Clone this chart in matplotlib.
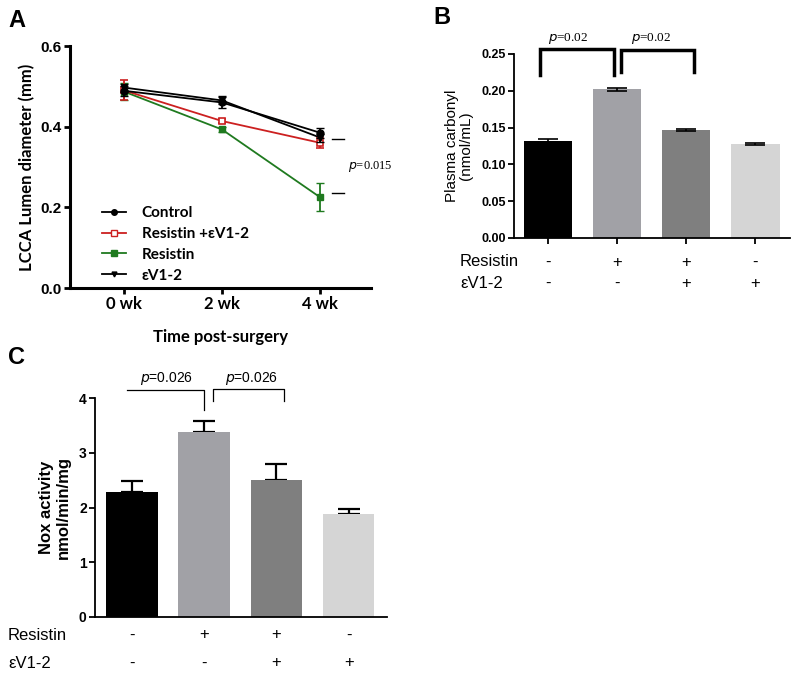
import numpy as np
import matplotlib
matplotlib.use('Agg')
import matplotlib.pyplot as plt
from matplotlib.lines import Line2D
from matplotlib.transforms import blended_transform_factory

plt.rcParams['font.family'] = ['Liberation Sans', 'DejaVu Sans']

# panel A data
weeks = ['0 wk', '2 wk', '4 wk']
control = [0.489, 0.460, 0.385]
control_err = [0.012, 0.014, 0.012]
res_ev = [0.490, 0.414, 0.360]
res_ev_err = [0.025, 0.006, 0.012]
resistin = [0.487, 0.393, 0.225]
resistin_err = [0.022, 0.005, 0.035]
ev = [0.497, 0.465, 0.373]
ev_err = [0.010, 0.010, 0.010]

# panel B data
carbonyl = [0.132, 0.202, 0.147, 0.128]
carbonyl_err = [0.003, 0.002, 0.001, 0.001]

# panel C data
nox = [2.29, 3.37, 2.51, 1.88]
nox_err = [0.19, 0.21, 0.28, 0.09]

resistin_signs = ['-', '+', '+', '-']
ev_signs = ['-', '-', '+', '+']
bar_colors = ['#000000', '#a1a1a6', '#7f7f7f', '#d5d5d5']

calibri = ['Lato', 'DejaVu Sans']
serif = ['Liberation Serif', 'DejaVu Serif']
green = '#1f7a1f'
red = '#cc2020'

fig = plt.figure(figsize=(8, 6.79), dpi=100)

# ---------------- A ----------------
axA = fig.add_axes([0.0875, 1 - 288 / 679, 0.3763, (288 - 46) / 679])
x = np.arange(len(weeks))
axA.errorbar(x, resistin, yerr=resistin_err, color=green, marker='s', ms=5,
             lw=1.3, capsize=3, elinewidth=1.3, zorder=2)
axA.errorbar(x, res_ev, yerr=res_ev_err, color=red, marker='s', ms=5,
             mfc='white', mew=1.2, lw=1.3, capsize=3, elinewidth=1.3, zorder=3)
axA.errorbar(x, ev, yerr=ev_err, color='black', marker='v', ms=4,
             lw=1.3, capsize=3, elinewidth=1.3, zorder=4)
axA.errorbar(x, control, yerr=control_err, color='black', marker='o', ms=5,
             lw=1.3, capsize=3, elinewidth=1.3, zorder=5)
axA.set_xlim(-0.55, 2.52)
axA.set_ylim(0, 0.6)
axA.set_yticks([0.0, 0.2, 0.4, 0.6])
axA.set_yticklabels(['0.0', '0.2', '0.4', '0.6'], fontweight='bold', fontsize=11)
axA.set_xticks(x)
axA.set_xticklabels(weeks, fontweight='bold', fontsize=12, family=calibri)
axA.set_ylabel('LCCA Lumen diameter (mm)', fontsize=12, fontweight='bold',
               family=calibri, labelpad=4)
axA.set_xlabel('Time post-surgery', fontsize=12, fontweight='bold',
               family=calibri, labelpad=12)
for s in ['top', 'right']:
    axA.spines[s].set_visible(False)
for s in ['left', 'bottom']:
    axA.spines[s].set_linewidth(2.2)
axA.tick_params(width=2, length=4, pad=2)
proxies = [
    Line2D([], [], color='black', marker='o', ms=4, lw=1.3),
    Line2D([], [], color=red, marker='s', ms=4, mfc='white', lw=1.3),
    Line2D([], [], color=green, marker='s', ms=4, lw=1.3),
    Line2D([], [], color='black', marker='v', ms=3.5, lw=1.3),
]
legend_labels = ['Control', 'Resistin +\u03b5V1-2', 'Resistin', '\u03b5V1-2']
axA.legend(proxies, legend_labels, loc='lower left', bbox_to_anchor=(0.06, -0.035),
           frameon=False, handlelength=1.6, handletextpad=1.0, labelspacing=0.45,
           prop={'family': calibri, 'weight': 'bold', 'size': 11})
axA.plot([2.12, 2.24], [0.37, 0.37], color='black', lw=1, clip_on=False)
axA.plot([2.12, 2.24], [0.236, 0.236], color='black', lw=1, clip_on=False)
axA.text(2.29, 0.30, '$p$=0.015', fontsize=9, va='center', ha='left', family=serif)
fig.text(0.01, 0.97, 'A', fontsize=17, fontweight='bold', va='center')

# ---------------- B ----------------
axB = fig.add_axes([514 / 800, 1 - 238 / 679, (790 - 514) / 800, (238 - 54) / 679])
xb = np.arange(len(carbonyl))
axB.bar(xb, carbonyl, width=0.7, color=bar_colors, zorder=2)
axB.errorbar(xb, carbonyl, yerr=carbonyl_err, fmt='none', ecolor='black',
             elinewidth=1.2, capsize=7, capthick=1.2, zorder=3)
axB.set_xlim(-0.49, 3.5)
axB.set_ylim(0, 0.25)
axB.set_yticks([0, 0.05, 0.10, 0.15, 0.20, 0.25])
axB.set_yticklabels(['0.00', '0.05', '0.10', '0.15', '0.20', '0.25'],
                    fontweight='bold', fontsize=9)
axB.set_xticks(xb)
axB.set_xticklabels([])
axB.set_ylabel('Plasma carbonyl\n(nmol/mL)', fontsize=11, labelpad=6,
               linespacing=1.0)
for s in ['top', 'right']:
    axB.spines[s].set_visible(False)
for s in ['left', 'bottom']:
    axB.spines[s].set_linewidth(1.3)
axB.tick_params(width=1.3, length=4, pad=2)
# brackets
axB.plot([-0.12, -0.12, 0.96, 0.96], [0.222, 0.2567, 0.2567, 0.222],
         color='black', lw=2.5, clip_on=False, solid_joinstyle='miter')
axB.plot([1.06, 1.06, 2.11, 2.11], [0.225, 0.2558, 0.2558, 0.225],
         color='black', lw=2.5, clip_on=False, solid_joinstyle='miter')
axB.text(0.30, 0.2605, '$p$=0.02', fontsize=9.5, ha='center', va='bottom', family=serif)
axB.text(1.50, 0.2605, '$p$=0.02', fontsize=9.5, ha='center', va='bottom', family=serif)
trB = blended_transform_factory(axB.transData, fig.transFigure)
for i in range(4):
    axB.text(xb[i], 1 - 262 / 679, resistin_signs[i], transform=trB,
             ha='center', va='center', fontsize=12)
    axB.text(xb[i], 1 - 283 / 679, ev_signs[i], transform=trB,
             ha='center', va='center', fontsize=12)
fig.text(460 / 800, 1 - 262 / 679, 'Resistin', ha='left', va='center', fontsize=12)
fig.text(460 / 800, 1 - 283 / 679, '\u03b5V1-2', ha='left', va='center', fontsize=12)
fig.text(433 / 800, 1 - 17 / 679, 'B', fontsize=17, fontweight='bold', va='center')

# ---------------- C ----------------
axC = fig.add_axes([95 / 800, 1 - 617 / 679, (387 - 95) / 800, (617 - 398) / 679])
xc = np.arange(len(nox))
axC.bar(xc, nox, width=0.71, color=bar_colors, zorder=2)
axC.errorbar(xc, nox, yerr=[[0] * 4, nox_err], fmt='none', ecolor='black',
             elinewidth=1.6, capsize=8, capthick=1.6, zorder=1)
axC.set_xlim(-0.51, 3.53)
axC.set_ylim(0, 4)
axC.set_yticks([0, 1, 2, 3, 4])
axC.set_yticklabels(['0', '1', '2', '3', '4'], fontweight='bold', fontsize=10)
axC.set_xticks([])
axC.set_ylabel('Nox activity\nnmol/min/mg', fontsize=12, fontweight='bold',
               labelpad=6, linespacing=1.1)
for s in ['top', 'right']:
    axC.spines[s].set_visible(False)
for s in ['left', 'bottom']:
    axC.spines[s].set_linewidth(1.3)
axC.tick_params(width=1.3, length=4, pad=2)
axC.plot([-0.07, 1.0, 1.0], [4.14, 4.14, 3.78], color='black', lw=0.9, clip_on=False)
axC.plot([1.12, 1.12, 2.1, 2.1], [3.95, 4.17, 4.17, 3.95], color='black', lw=0.9,
         clip_on=False)
axC.text(0.48, 4.2, '$p$=0.026', fontsize=10, ha='center', va='bottom')
axC.text(1.66, 4.2, '$p$=0.026', fontsize=10, ha='center', va='bottom')
trC = blended_transform_factory(axC.transData, fig.transFigure)
for i in range(4):
    axC.text(xc[i], 1 - 635 / 679, resistin_signs[i], transform=trC,
             ha='center', va='center', fontsize=12)
    axC.text(xc[i], 1 - 663 / 679, ev_signs[i], transform=trC,
             ha='center', va='center', fontsize=12)
fig.text(8 / 800, 1 - 635 / 679, 'Resistin', ha='left', va='center', fontsize=12)
fig.text(8 / 800, 1 - 663 / 679, '\u03b5V1-2', ha='left', va='center', fontsize=12)
fig.text(0.01, 1 - 357 / 679, 'C', fontsize=17, fontweight='bold', va='center')

fig.savefig('out.png', dpi=100)
